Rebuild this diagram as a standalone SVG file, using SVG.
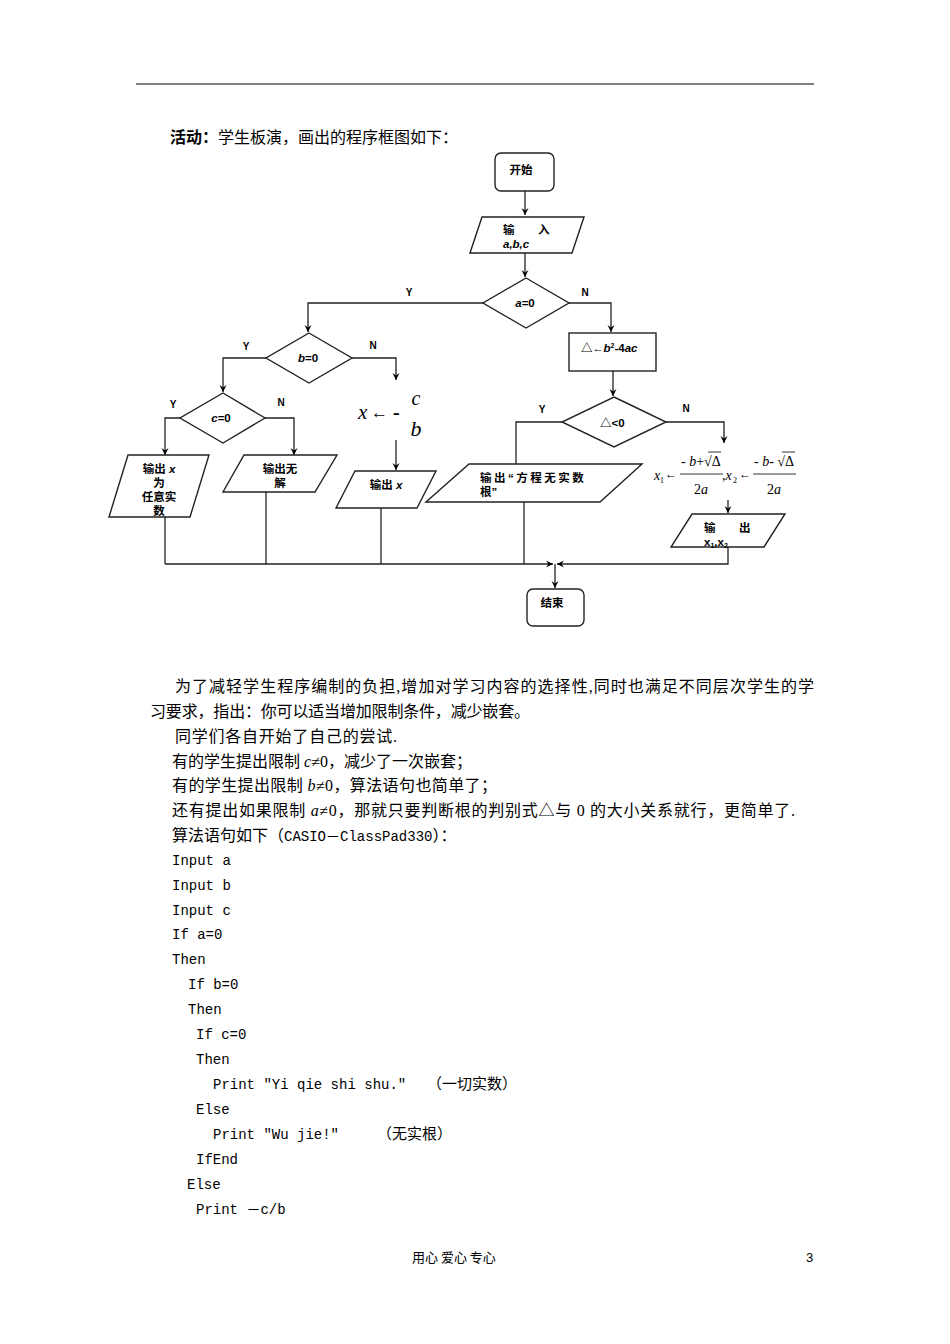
<svg xmlns="http://www.w3.org/2000/svg" width="950" height="1344" viewBox="0 0 950 1344">
<style>
.t{font-family:"Liberation Serif","Noto Sans CJK SC",serif;font-size:16px;fill:#000}
.code{font-family:"Liberation Mono","Noto Sans CJK SC",monospace;font-size:14px;fill:#000}
.cjk{font-family:"Noto Sans CJK SC",sans-serif;font-size:15px}
.n{font-family:"Liberation Sans","Noto Sans CJK SC",sans-serif;font-size:11.5px;font-weight:bold;fill:#000}
.yn{font-family:"Liberation Sans",sans-serif;font-size:10px;font-weight:bold;fill:#000}
.shape{fill:#fff;stroke:#222;stroke-width:1.4}
.con{fill:none;stroke:#222;stroke-width:1.3}
.m{font-family:"Liberation Serif",serif;fill:#000}
.i{font-style:italic}
</style>
<defs>
<marker id="ah" markerWidth="8" markerHeight="8" refX="7" refY="4" orient="auto" markerUnits="userSpaceOnUse">
<path d="M0,0.5 L7,4 L0,7.5 L2.5,4 z" fill="#000"/>
</marker>
</defs>
<rect width="950" height="1344" fill="#fff"/>
<line x1="136" y1="84" x2="814" y2="84" stroke="#000" stroke-width="1"/>

<text class="t" x="170" y="143"><tspan font-weight="bold">活动：</tspan>学生板演，画出的程序框图如下：</text>

<g id="connectors">
<path class="con" d="M525,191 V215" marker-end="url(#ah)"/>
<path class="con" d="M525,253 V277" marker-end="url(#ah)"/>
<path class="con" d="M483,303 H308 V332" marker-end="url(#ah)"/>
<path class="con" d="M569,303 H611 V332" marker-end="url(#ah)"/>
<path class="con" d="M266,358 H223 V392" marker-end="url(#ah)"/>
<path class="con" d="M352,358 H396 V380" marker-end="url(#ah)"/>
<path class="con" d="M180,418 H165 V455" marker-end="url(#ah)"/>
<path class="con" d="M265,418 H294 V455" marker-end="url(#ah)"/>
<path class="con" d="M396,440 V470" marker-end="url(#ah)"/>
<path class="con" d="M613,371 V396" marker-end="url(#ah)"/>
<path class="con" d="M562,422 H516 V464"/>
<path class="con" d="M666,422 H724 V443" marker-end="url(#ah)"/>
<path class="con" d="M728,500 V513" marker-end="url(#ah)"/>
<path class="con" d="M165,517 V564"/>
<path class="con" d="M266,492 V564"/>
<path class="con" d="M381,508 V564"/>
<path class="con" d="M524,501 V564"/>
<path class="con" d="M165,564 H553" marker-end="url(#ah)"/>
<path class="con" d="M728,547 V564 H557" marker-end="url(#ah)"/>
<path class="con" d="M555,564 V588" marker-end="url(#ah)"/>
</g>

<g id="start">
<rect class="shape" x="495" y="153" width="59" height="38" rx="6"/>
<text class="n" x="521" y="174" text-anchor="middle">开始</text>
</g>

<g id="input">
<polygon class="shape" points="470,253 482,217 584,217 572,253"/>
<text class="n" x="503" y="234">输</text>
<text class="n" x="538" y="234">入</text>
<text class="n i" x="503" y="248">a,b,c</text>
</g>

<g id="dec-a">
<polygon class="shape" points="526,278 569,303 526,328 483,303"/>
<text class="n" x="525" y="307" text-anchor="middle"><tspan class="i">a</tspan>=0</text>
<text class="yn" x="409" y="296" text-anchor="middle">Y</text>
<text class="yn" x="585" y="296" text-anchor="middle">N</text>
</g>

<g id="dec-b">
<polygon class="shape" points="309,333 352,358 309,383 266,358"/>
<text class="n" x="308" y="362" text-anchor="middle"><tspan class="i">b</tspan>=0</text>
<text class="yn" x="246" y="350" text-anchor="middle">Y</text>
<text class="yn" x="373" y="349" text-anchor="middle">N</text>
</g>

<g id="dec-c">
<polygon class="shape" points="223,393 265,418 223,443 180,418"/>
<text class="n" x="221" y="422" text-anchor="middle"><tspan class="i">c</tspan>=0</text>
<text class="yn" x="173" y="408" text-anchor="middle">Y</text>
<text class="yn" x="281" y="406" text-anchor="middle">N</text>
</g>

<g id="calc-delta">
<rect class="shape" x="569" y="333" width="87" height="38"/>
<text class="n" x="581" y="352">△<tspan font-size="11">←</tspan><tspan class="i">b</tspan><tspan font-size="7" dy="-4">2</tspan><tspan dy="4">-4</tspan><tspan class="i">ac</tspan></text>
</g>

<g id="dec-delta">
<polygon class="shape" points="614,397 666,422 614,447 562,422"/>
<text class="n" x="600" y="427">△&lt;0</text>
<text class="yn" x="542" y="413" text-anchor="middle">Y</text>
<text class="yn" x="686" y="412" text-anchor="middle">N</text>
</g>

<g id="formula-x">
<text class="m i" x="358" y="419" font-size="21">x</text>
<text class="m" x="371" y="418" font-size="17">←</text>
<text class="m" x="393" y="419" font-size="20" font-weight="bold">-</text>
<text class="m i" x="416" y="405" font-size="20" text-anchor="middle">c</text>
<text class="m i" x="416" y="436" font-size="22" text-anchor="middle">b</text>
</g>

<g id="formula-roots">
<text class="m i" x="654" y="480" font-size="14">x</text>
<text class="m" x="660" y="483" font-size="8">1</text>
<text class="m" x="665" y="478" font-size="12">←</text>
<text class="m" x="681" y="466" font-size="14">- <tspan class="i">b</tspan>+√Δ</text>
<line x1="708" y1="452" x2="721" y2="452" stroke="#000" stroke-width="0.8"/>
<line x1="680" y1="474" x2="723" y2="474" stroke="#000" stroke-width="0.8"/>
<text class="m" x="701" y="494" font-size="14" text-anchor="middle">2<tspan class="i">a</tspan></text>
<text class="m" x="722" y="480" font-size="14">,<tspan class="i">x</tspan></text>
<text class="m" x="733" y="483" font-size="8">2</text>
<text class="m" x="739" y="478" font-size="12">←</text>
<text class="m" x="754" y="466" font-size="14">- <tspan class="i">b</tspan>- √Δ</text>
<line x1="782" y1="452" x2="795" y2="452" stroke="#000" stroke-width="0.8"/>
<line x1="753" y1="474" x2="796" y2="474" stroke="#000" stroke-width="0.8"/>
<text class="m" x="774" y="494" font-size="14" text-anchor="middle">2<tspan class="i">a</tspan></text>
</g>

<g id="out-any">
<polygon class="shape" points="128,455 209,455 190,517 109,517"/>
<text class="n" x="159" y="473" text-anchor="middle">输出 <tspan class="i">x</tspan></text>
<text class="n" x="159" y="487" text-anchor="middle">为</text>
<text class="n" x="159" y="501" text-anchor="middle">任意实</text>
<text class="n" x="159" y="515" text-anchor="middle">数</text>
</g>

<g id="out-nosol">
<polygon class="shape" points="244,455 337,455 315,492 223,492"/>
<text class="n" x="280" y="473" text-anchor="middle">输出无</text>
<text class="n" x="280" y="487" text-anchor="middle">解</text>
</g>

<g id="out-x">
<polygon class="shape" points="355,471 436,471 417,508 336,508"/>
<text class="n" x="386" y="489" text-anchor="middle">输出 <tspan class="i">x</tspan></text>
</g>

<g id="out-noroot">
<polygon class="shape" points="469,464 642,464 600,502 426,502"/>
<text class="n" x="480" y="482" letter-spacing="2.5">输出“方程无实数</text>
<text class="n" x="480" y="496">根”</text>
</g>

<g id="out-roots">
<polygon class="shape" points="692,514 785,514 764,547 671,547"/>
<text class="n" x="704" y="532">输</text>
<text class="n" x="739" y="532">出</text>
<text class="n" x="704" y="546" font-size="10">x<tspan font-size="7" dy="2">1</tspan><tspan dy="-2">,x</tspan><tspan font-size="7" dy="2">2</tspan></text>
</g>

<g id="end">
<rect class="shape" x="527" y="589" width="57" height="37" rx="6"/>
<text class="n" x="552" y="607" text-anchor="middle">结束</text>
</g>

<g id="body">
<text class="t" x="175" y="692" textLength="639" lengthAdjust="spacing">为了减轻学生程序编制的负担,增加对学习内容的选择性,同时也满足不同层次学生的学</text>
<text class="t" x="150" y="717" textLength="380" lengthAdjust="spacing">习要求，指出：你可以适当增加限制条件，减少嵌套。</text>
<text class="t" x="175" y="742" textLength="222" lengthAdjust="spacing">同学们各自开始了自己的尝试.</text>
<text class="t" x="172" y="767">有的学生提出限制 <tspan class="i">c</tspan>≠0，减少了一次嵌套；</text>
<text class="t" x="172" y="791" textLength="325" lengthAdjust="spacing">有的学生提出限制 <tspan class="i">b</tspan>≠0，算法语句也简单了；</text>
<text class="t" x="172" y="816" textLength="623" lengthAdjust="spacing">还有提出如果限制 <tspan class="i">a</tspan>≠0，那就只要判断根的判别式△与 0 的大小关系就行，更简单了.</text>
<text class="t" x="172" y="841">算法语句如下（<tspan class="code">CASIO－ClassPad330</tspan>）：</text>
</g>

<g id="code">
<text class="code" x="172" y="865">Input a</text>
<text class="code" x="172" y="890">Input b</text>
<text class="code" x="172" y="915">Input c</text>
<text class="code" x="172" y="939">If a=0</text>
<text class="code" x="172" y="964">Then</text>
<text class="code" x="188" y="989">If b=0</text>
<text class="code" x="188" y="1014">Then</text>
<text class="code" x="196" y="1039">If c=0</text>
<text class="code" x="196" y="1064">Then</text>
<text class="code" x="213" y="1089">Print "Yi qie shi shu."</text>
<text class="cjk" x="427" y="1089">（一切实数）</text>
<text class="code" x="196" y="1114">Else</text>
<text class="code" x="213" y="1139">Print "Wu jie!"</text>
<text class="cjk" x="377" y="1139">（无实根）</text>
<text class="code" x="196" y="1164">IfEnd</text>
<text class="code" x="187" y="1189">Else</text>
<text class="code" x="196" y="1214">Print －c/b</text>
</g>

<g id="footer">
<text x="412" y="1262" font-family="Noto Sans CJK SC, sans-serif" font-size="13">用心 爱心 专心</text>
<text x="806" y="1262" font-family="Liberation Sans, sans-serif" font-size="13">3</text>
</g>
</svg>
